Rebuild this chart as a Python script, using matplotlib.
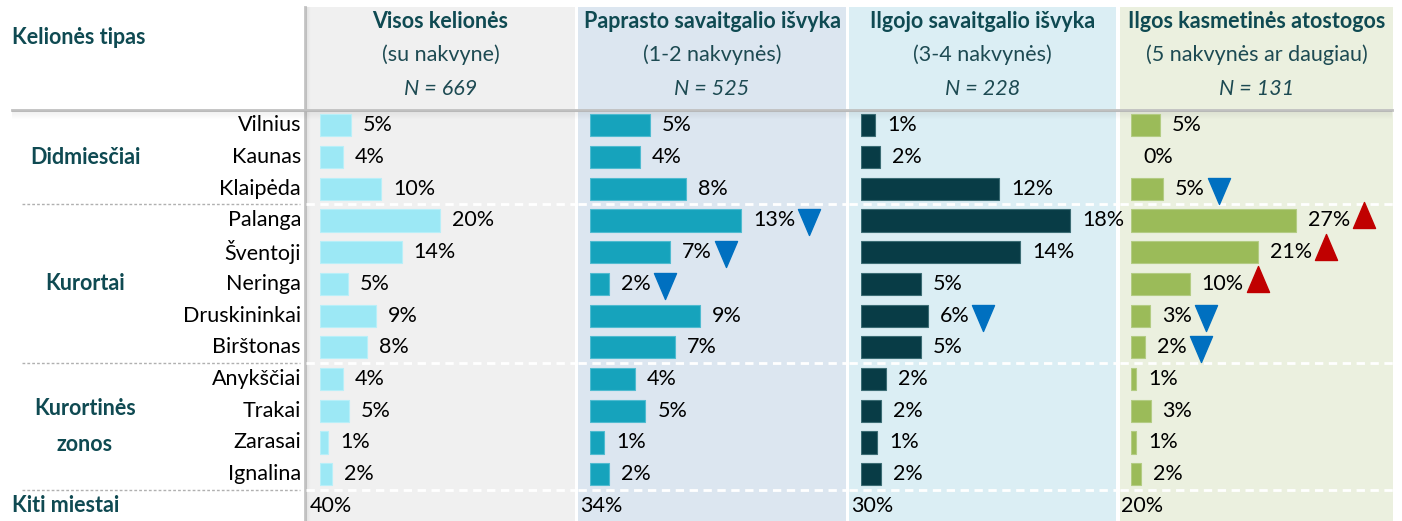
import matplotlib
matplotlib.use("Agg")
import matplotlib.pyplot as plt
from matplotlib.patches import Rectangle
from matplotlib.path import Path
import matplotlib.transforms as mtransforms

plt.rcParams['font.family'] = ['Lato', 'DejaVu Sans']

# ---------------- data ----------------
row_header = "Kelionės tipas"
categories = ["Vilnius", "Kaunas", "Klaipėda", "Palanga", "Šventoji", "Neringa",
              "Druskininkai", "Birštonas", "Anykščiai", "Trakai", "Zarasai", "Ignalina"]
groups = [("Didmiesčiai", 0, 2), ("Kurortai", 3, 7), ("Kurortinės\nzonos", 8, 11)]
other_label = "Kiti miestai"

panel_titles = ["Visos kelionės", "Paprasto savaitgalio išvyka",
                "Ilgojo savaitgalio išvyka", "Ilgos kasmetinės atostogos"]
panel_subtitles = ["(su nakvyne)", "(1-2 nakvynės)", "(3-4 nakvynės)",
                   "(5 nakvynės ar daugiau)"]
panel_n = [669, 525, 228, 131]

visos = [5.2, 3.8, 10.2, 20.0, 13.6, 4.7, 9.3, 7.8, 3.8, 4.8, 1.4, 2.0]
paprasto = [5.1, 4.2, 8.1, 12.8, 6.8, 1.6, 9.3, 7.2, 3.8, 4.7, 1.2, 1.6]
ilgojo = [1.2, 1.6, 11.8, 17.9, 13.6, 5.1, 5.7, 5.1, 2.1, 1.7, 1.4, 1.7]
ilgos = [4.7, 0.0, 5.2, 27.0, 20.8, 9.6, 3.1, 2.3, 0.9, 3.2, 0.9, 1.6]
series = [visos, paprasto, ilgojo, ilgos]
kiti = [40, 34, 30, 20]

# significance markers: (panel index, category, direction)
sig_markers = [
    (1, "Palanga", "down"), (1, "Šventoji", "down"), (1, "Neringa", "down"),
    (2, "Druskininkai", "down"),
    (3, "Klaipėda", "down"), (3, "Palanga", "up"), (3, "Šventoji", "up"),
    (3, "Neringa", "up"), (3, "Druskininkai", "down"), (3, "Birštonas", "down"),
]

# ---------------- style ----------------
W, H = 1402, 521
teal = "#0f4a52"
bg_colors = ["#f0f0f0", "#dce6f0", "#dbeef4", "#ebf0df"]
bar_colors = ["#9ce8f5", "#16a3bc", "#083c46", "#9bbb59"]
bar_edges = ["#b8eff8", "#4fbbd0", "#3b6c74", "#b3cc83"]
panel_x = [(306, 575), (578, 846), (849, 1116), (1120, 1393)]
bar_x0 = [320, 590, 861, 1131]
px_per_pct = [6.0, 11.8, 11.7, 6.1]
top_y, bot_y = 109.5, 490.0
fs = 15.5

fig = plt.figure(figsize=(W / 100, H / 100), dpi=100)
bg = fig.add_axes([0, 0, 1, 1])
bg.set_xlim(0, W)
bg.set_ylim(H, 0)
bg.axis("off")

# panel backgrounds
for (x0, x1), c in zip(panel_x, bg_colors):
    bg.add_patch(Rectangle((x0, 7), x1 - x0, H - 7, color=c, zorder=0, lw=0))

# vertical separator with shadow
bg.plot([305, 305], [7, H], color="#c4c4c4", lw=2, zorder=2)
for k in range(1, 5):
    bg.plot([305 + k, 305 + k], [7, H], color="#000000", alpha=0.04 * (5 - k) / 4, lw=1, zorder=2)

# top horizontal line with shadow
bg.plot([12, 1392], [110, 110], color="#c0c0c0", lw=2, zorder=3)
for k in range(1, 9):
    bg.add_patch(Rectangle((12, 110 + k), 1380, 1, color="#000000",
                           alpha=0.06 * (9 - k) / 8, lw=0, zorder=3))

# separators
for y in [204, 363, 490]:
    bg.plot([22, 300], [y, y], color="#b0b0b0", lw=1, ls=(0, (2, 1.5)), zorder=2)
    for x0, x1 in panel_x:
        bg.plot([x0, x1], [y, y], color="white", lw=2, ls=(0, (3, 2)), zorder=2)

# headers
for (x0, x1), t, s, n in zip(panel_x, panel_titles, panel_subtitles, panel_n):
    cx = (x0 + x1) / 2
    bg.text(cx, 21, t, ha="center", va="center", fontsize=fs, fontweight="bold", color=teal)
    bg.text(cx, 55, s, ha="center", va="center", fontsize=fs, color="#1d4a52")
    bg.text(cx, 89, f"N = {n}", ha="center", va="center", fontsize=fs, style="italic",
            color="#1d4a52")
bg.text(12, 38, row_header, ha="left", va="center", fontsize=fs, fontweight="bold", color=teal)

# panel axes
n_rows = len(categories)
axes = []
for i in range(4):
    x0 = bar_x0[i]
    x1 = panel_x[i][1]
    ax = fig.add_axes([x0 / W, 1 - bot_y / H, (x1 - x0) / W, (bot_y - top_y) / H])
    ax.set_xlim(0, (x1 - x0) / px_per_pct[i])
    ax.set_ylim(n_rows - 0.5, -0.5)
    ax.axis("off")
    ax.patch.set_alpha(0)
    axes.append(ax)

ypos = list(range(n_rows))
label_texts = []
for i, ax in enumerate(axes):
    vals = series[i]
    ax.barh(ypos, vals, height=0.7, color=bar_colors[i], edgecolor=bar_edges[i],
            linewidth=[0.8 if v > 0 else 0 for v in vals], zorder=3)
    off = mtransforms.offset_copy(ax.transData, fig=fig, x=12, y=0, units="dots")
    texts = []
    for y, v in zip(ypos, vals):
        texts.append(ax.text(v, y, f"{v:.0f}%", transform=off, ha="left", va="center",
                             fontsize=fs, color="black", zorder=4))
    label_texts.append(texts)
    off2 = mtransforms.offset_copy(ax.transData, fig=fig, x=-10, y=0, units="dots")
    ax.text(0, n_rows, f"{kiti[i]}%", transform=off2, ha="left", va="center",
            fontsize=fs, color="black", clip_on=False)

# row labels
row_tr = mtransforms.blended_transform_factory(bg.transData, axes[0].transData)
for y, c in zip(ypos, categories):
    bg.text(301, y, c, transform=row_tr, ha="right", va="center", fontsize=fs, color="black")
for name, a, b in groups:
    bg.text(85, (a + b) / 2, name, transform=row_tr, ha="center", va="center",
            fontsize=fs, fontweight="bold", color=teal, linespacing=1.85)
bg.text(12, n_rows, other_label, transform=row_tr, ha="left", va="center", fontsize=fs,
        fontweight="bold", color=teal)

# significance markers placed after the value labels
fig.canvas.draw()
renderer = fig.canvas.get_renderer()
down_path = Path([(-0.85, 1), (0.85, 1), (0, -1), (-0.85, 1)],
                 [Path.MOVETO, Path.LINETO, Path.LINETO, Path.CLOSEPOLY])
up_path = Path([(-0.85, -1), (0.85, -1), (0, 1), (-0.85, -1)],
               [Path.MOVETO, Path.LINETO, Path.LINETO, Path.CLOSEPOLY])
for p, cat, d in sig_markers:
    ax = axes[p]
    r = categories.index(cat)
    bb = label_texts[p][r].get_window_extent(renderer)
    xd, _ = ax.transData.inverted().transform((bb.x1, 0))
    tr = mtransforms.offset_copy(ax.transData, fig=fig, x=14,
                                 y=(-2 if d == "down" else 5), units="dots")
    ax.plot([xd], [r], marker=down_path if d == "down" else up_path,
            markersize=18.7, color="#0070c0" if d == "down" else "#c00000",
            transform=tr, clip_on=False, zorder=5, lw=0)

fig.savefig("out.png", dpi=100)
